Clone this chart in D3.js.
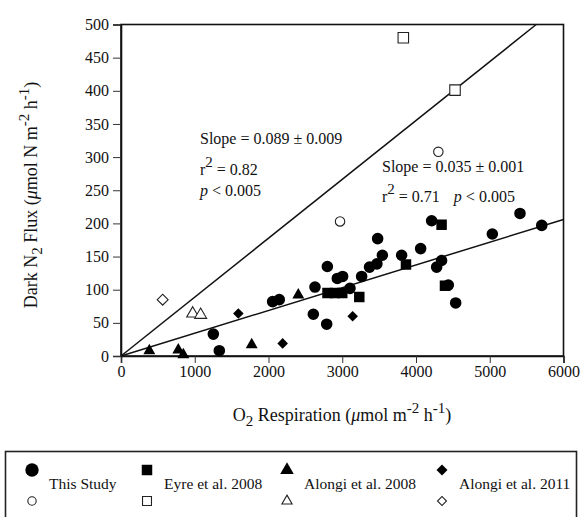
<!DOCTYPE html>
<html>
<head>
<meta charset="utf-8">
<script src="https://cdn.jsdelivr.net/npm/d3@7"></script>
<style>
  body { margin: 0; background: #fff; }
  text { font-family: "Liberation Serif", "Times New Roman", serif; fill: #111; }
</style>
</head>
<body>
<script>
// values: [O2 respiration, dark N2 flux]
var thisStudy = [[1252,33],[1333,8],[2056,82],[2146,85],[2608,63],[2630,104],[2789,48],[2798,135],
    [2933,117],[3005,120],[3105,102],[3263,120],[3370,134],[3470,139],[3544,152],[3480,177],
    [3805,152],[4063,162],[4212,204],[4347,144],[4280,134],[4438,107],[4538,80],[5035,184],
    [5410,215],[5705,197]];
var eyre2008 = [[2800,95],[2900,95],[3000,95],[3231,89],[3864,138],[4347,198],[4393,106]];
var alongi2008 = [[384,8],[777,9],[845,2],[1772,17],[2404,92]];
var alongi2011 = [[1591,64],[2192,19],[3141,60]];

var thisStudyOpen = [[2970,203],[4303,308]];
var eyre2008Open = [[3828,480],[4529,401]];
var alongi2008Open = [[972,64],[1080,62]];
var alongi2011Open = [[565,85]];

// regression lines, start and end points
var fitSteep = [[0,0],[5630,500]];
var fitShallow = [[0,0],[6000,206]];

var xTicks = [0,1000,2000,3000,4000,5000,6000];
var yTicks = [0,50,100,150,200,250,300,350,400,450,500];

var legendNames = ["This Study","Eyre et al. 2008","Alongi et al. 2008","Alongi et al. 2011"];

var width = 581, height = 517;
var svg = d3.select("body").append("svg")
    .attr("width", width)
    .attr("height", height);

var x = d3.scaleLinear().domain([0, 6000]).range([121, 563.5]);
var y = d3.scaleLinear().domain([0, 500]).range([356, 24.5]);

// frame
svg.append("rect")
    .attr("x", x(0)).attr("y", y(500))
    .attr("width", x(6000) - x(0)).attr("height", y(0) - y(500))
    .style("fill", "none").style("stroke", "#111").style("stroke-width", 1.6);

var xAxis = svg.append("g")
    .attr("transform", "translate(0," + y(0) + ")")
    .call(d3.axisBottom(x).tickValues(xTicks).tickSize(7).tickPadding(3).tickFormat(d3.format("d")));
var yAxis = svg.append("g")
    .attr("transform", "translate(" + x(0) + ",0)")
    .call(d3.axisLeft(y).tickValues(yTicks).tickSize(8).tickPadding(4).tickFormat(d3.format("d")));
[xAxis, yAxis].forEach(function(a) {
    a.select(".domain").style("stroke", "#111").style("stroke-width", 1.6);
    a.selectAll(".tick line").style("stroke", "#333").style("stroke-width", 1);
    a.selectAll(".tick text")
        .style("font-family", "Liberation Serif").style("font-size", "16px").style("fill", "#111");
});

// fit lines
var line = d3.line().x(function(d) { return x(d[0]); }).y(function(d) { return y(d[1]); });
[fitSteep, fitShallow].forEach(function(f) {
    svg.append("path").attr("d", line(f))
        .style("fill", "none").style("stroke", "#111").style("stroke-width", 1.5);
});

// symbols
var circle = d3.symbol().type(d3.symbolCircle);
var square = d3.symbol().type(d3.symbolSquare);
var triangle = d3.symbol().type(d3.symbolTriangle);
var diamond = d3.symbol().type(d3.symbolSquare);

var series = [
    {data: thisStudy, sym: circle, size: 105, rot: 0, filled: true},
    {data: eyre2008, sym: square, size: 110, rot: 0, filled: true},
    {data: alongi2008, sym: triangle, size: 62, rot: 0, filled: true},
    {data: alongi2011, sym: diamond, size: 56, rot: 45, filled: true},
    {data: thisStudyOpen, sym: circle, size: 70, rot: 0, filled: false},
    {data: eyre2008Open, sym: square, size: 110, rot: 0, filled: false},
    {data: alongi2008Open, sym: triangle, size: 62, rot: 0, filled: false},
    {data: alongi2011Open, sym: diamond, size: 60, rot: 45, filled: false}
];

series.forEach(function(s) {
    svg.append("g").selectAll("path")
        .data(s.data)
        .enter().append("path")
        .attr("d", s.sym.size(s.size))
        .attr("transform", function(d) {
            return "translate(" + x(d[0]) + "," + y(d[1]) + ") rotate(" + s.rot + ")";
        })
        .style("fill", s.filled ? "#000" : "#fff")
        .style("stroke", s.filled ? "none" : "#222")
        .style("stroke-width", 1.1);
});

// annotations
function stat(xp, yp, parts) {
    var t = svg.append("text").attr("x", xp).attr("y", yp).style("font-size", "16px");
    parts.forEach(function(p) {
        var ts = t.append("tspan").text(p.t);
        if (p.dy) ts.attr("dy", p.dy);
        if (p.dx) ts.attr("dx", p.dx);
        if (p.size) ts.style("font-size", p.size);
        if (p.italic) ts.style("font-style", "italic");
    });
    return t;
}
stat(200, 144, [{t: "Slope = 0.089 \u00b1 0.009"}]);
stat(200, 175, [{t: "r"}, {t: "2", dy: -8, size: "15px"}, {t: " = 0.82", dy: 8}]);
stat(200, 196, [{t: "p", italic: true}, {t: " < 0.005"}]);
stat(382, 172, [{t: "Slope = 0.035 \u00b1 0.001"}]);
stat(382, 202, [{t: "r"}, {t: "2", dy: -8, size: "15px"}, {t: " = 0.71", dy: 8}, {t: "p", italic: true, dx: 14}, {t: " < 0.005"}]);

// axis titles
var xt = svg.append("text").attr("x", 342).attr("y", 421)
    .attr("text-anchor", "middle").style("font-size", "18px");
xt.append("tspan").text("O");
xt.append("tspan").text("2").attr("dy", 5).style("font-size", "15px");
xt.append("tspan").text(" Respiration (").attr("dy", -5);
xt.append("tspan").text("\u03bc").style("font-style", "italic");
xt.append("tspan").text("mol m");
xt.append("tspan").text("-2").attr("dy", -8).style("font-size", "15px");
xt.append("tspan").text(" h").attr("dy", 8);
xt.append("tspan").text("-1").attr("dy", -8).style("font-size", "15px");
xt.append("tspan").text(")").attr("dy", 8);

var yt = svg.append("text")
    .attr("transform", "translate(37,195) rotate(-90)")
    .attr("text-anchor", "middle").style("font-size", "18px");
yt.append("tspan").text("Dark N");
yt.append("tspan").text("2").attr("dy", 5).style("font-size", "15px");
yt.append("tspan").text(" Flux (").attr("dy", -5);
yt.append("tspan").text("\u03bc").style("font-style", "italic");
yt.append("tspan").text("mol N m");
yt.append("tspan").text("-2").attr("dy", -8).style("font-size", "15px");
yt.append("tspan").text(" h").attr("dy", 8);
yt.append("tspan").text("-1").attr("dy", -8).style("font-size", "15px");
yt.append("tspan").text(")").attr("dy", 8);

// legend
svg.append("rect")
    .attr("x", 5.5).attr("y", 451.5).attr("width", 571).attr("height", 80)
    .style("fill", "none").style("stroke", "#222").style("stroke-width", 1.6);

var legendX = [32, 147, 287, 442];
var legendFilled = [circle.size(140), square.size(110), triangle.size(80), diamond.size(60)];
var legendOpen = [
    d3.symbol().type(d3.symbolCircle).size(55),
    d3.symbol().type(d3.symbolSquare).size(80),
    d3.symbol().type(d3.symbolTriangle).size(45),
    d3.symbol().type(d3.symbolSquare).size(40)
];
legendNames.forEach(function(name, i) {
    var rot = i === 3 ? 45 : 0;
    svg.append("path").attr("d", legendFilled[i]())
        .attr("transform", "translate(" + legendX[i] + ",470) rotate(" + rot + ")")
        .style("fill", "#000");
    svg.append("path").attr("d", legendOpen[i]())
        .attr("transform", "translate(" + legendX[i] + ",501) rotate(" + rot + ")")
        .style("fill", "#fff").style("stroke", "#222").style("stroke-width", 1.1);
    svg.append("text").attr("x", legendX[i] + 17).attr("y", 489)
        .style("font-size", "15.5px").text(name);
});
</script>
</body>
</html>
